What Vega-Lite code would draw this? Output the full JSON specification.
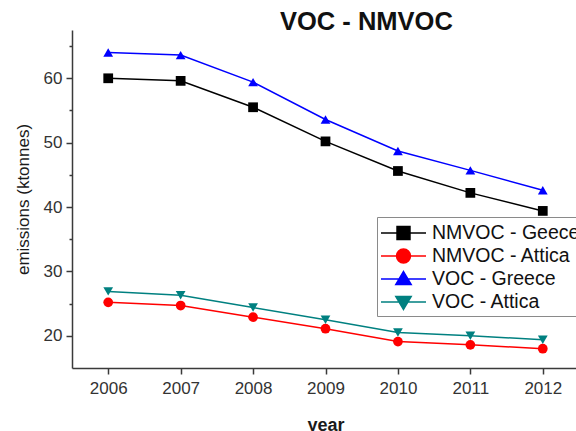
{
  "$schema": "https://vega.github.io/schema/vega-lite/v6.json",
  "autosize": "none",
  "width": 507,
  "height": 338,
  "padding": {"left": 72, "top": 30, "right": 0, "bottom": 63},
  "background": "white",
  "config": {
    "font": "Liberation Sans",
    "view": {"stroke": null},
    "axis": {
      "grid": false,
      "domainColor": "#3a3a3a",
      "domainWidth": 1.5,
      "tickColor": "#3a3a3a",
      "tickWidth": 1.5,
      "labelFont": "Liberation Sans",
      "labelFontSize": 17,
      "labelColor": "#333333",
      "titleFont": "Liberation Sans",
      "titleColor": "#1a1a1a"
    },
    "legend": {
      "orient": "none",
      "legendX": 305,
      "legendY": 187,
      "strokeColor": "#8a8a8a",
      "fillColor": "white",
      "padding": 3,
      "labelFontSize": 19.5,
      "labelColor": "#111111",
      "labelFont": "Liberation Sans",
      "labelLimit": 300,
      "labelOffset": 26,
      "symbolSize": 576,
      "symbolStrokeWidth": 1.5,
      "rowPadding": -2.3
    }
  },
  "title": {
    "text": "VOC - NMVOC",
    "font": "Liberation Sans",
    "fontSize": 25.5,
    "fontWeight": "bold",
    "color": "#111111",
    "anchor": "start",
    "frame": "group",
    "dx": 208,
    "offset": -5
  },
  "data": {
    "values": [
      {"year": 2006, "series": "NMVOC - Geece", "value": 60.0},
      {"year": 2007, "series": "NMVOC - Geece", "value": 59.6},
      {"year": 2008, "series": "NMVOC - Geece", "value": 55.5},
      {"year": 2009, "series": "NMVOC - Geece", "value": 50.2},
      {"year": 2010, "series": "NMVOC - Geece", "value": 45.6},
      {"year": 2011, "series": "NMVOC - Geece", "value": 42.2},
      {"year": 2012, "series": "NMVOC - Geece", "value": 39.4},
      {"year": 2006, "series": "NMVOC - Attica", "value": 25.2},
      {"year": 2007, "series": "NMVOC - Attica", "value": 24.7},
      {"year": 2008, "series": "NMVOC - Attica", "value": 22.9},
      {"year": 2009, "series": "NMVOC - Attica", "value": 21.1},
      {"year": 2010, "series": "NMVOC - Attica", "value": 19.1},
      {"year": 2011, "series": "NMVOC - Attica", "value": 18.6},
      {"year": 2012, "series": "NMVOC - Attica", "value": 18.0},
      {"year": 2006, "series": "VOC - Greece", "value": 64.0},
      {"year": 2007, "series": "VOC - Greece", "value": 63.6},
      {"year": 2008, "series": "VOC - Greece", "value": 59.4},
      {"year": 2009, "series": "VOC - Greece", "value": 53.6},
      {"year": 2010, "series": "VOC - Greece", "value": 48.7},
      {"year": 2011, "series": "VOC - Greece", "value": 45.7},
      {"year": 2012, "series": "VOC - Greece", "value": 42.6},
      {"year": 2006, "series": "VOC - Attica", "value": 26.9},
      {"year": 2007, "series": "VOC - Attica", "value": 26.3},
      {"year": 2008, "series": "VOC - Attica", "value": 24.4},
      {"year": 2009, "series": "VOC - Attica", "value": 22.5},
      {"year": 2010, "series": "VOC - Attica", "value": 20.5},
      {"year": 2011, "series": "VOC - Attica", "value": 20.0},
      {"year": 2012, "series": "VOC - Attica", "value": 19.4}
    ]
  },
  "encoding": {
    "x": {
      "field": "year",
      "type": "quantitative",
      "scale": {"domain": [2005.5, 2012.5], "nice": false, "zero": false},
      "axis": {
        "title": "year",
        "titleFontSize": 18,
        "titleFontWeight": "bold",
        "titlePadding": 20,
        "values": [2006, 2007, 2008, 2009, 2010, 2011, 2012],
        "format": "d",
        "tickSize": 6,
        "labelPadding": 6,
        "labelFlush": false,
        "labelOverlap": false
      }
    },
    "y": {
      "field": "value",
      "type": "quantitative",
      "scale": {"domain": [15, 67.5], "nice": false, "zero": false},
      "axis": {
        "title": "emissions (ktonnes)",
        "titleFontSize": 17,
        "titleFontWeight": "normal",
        "titlePadding": 11,
        "values": [20, 25, 30, 35, 40, 45, 50, 55, 60, 65],
        "labelExpr": "datum.value % 10 === 0 ? datum.label : ''",
        "tickSize": {"condition": {"test": "datum.value % 10 === 0", "value": 6}, "value": 3},
        "labelPadding": 4,
        "labelOverlap": false
      }
    }
  },
  "layer": [
    {
      "mark": {"type": "line", "strokeWidth": 1.5},
      "encoding": {
        "color": {
          "field": "series",
          "type": "nominal",
          "title": null,
          "scale": {
            "domain": ["NMVOC - Geece", "NMVOC - Attica", "VOC - Greece", "VOC - Attica"],
            "range": ["#000000", "#ff0000", "#0000ff", "#008080"]
          }
        }
      }
    },
    {
      "transform": [{"filter": "datum.series === 'NMVOC - Geece'"}],
      "mark": {"type": "point", "filled": true, "size": 95, "opacity": 1, "shape": "square", "color": "#000000"},
      "encoding": {}
    },
    {
      "transform": [{"filter": "datum.series === 'NMVOC - Attica'"}],
      "mark": {"type": "point", "filled": true, "size": 95, "opacity": 1, "shape": "circle", "color": "#ff0000"},
      "encoding": {}
    },
    {
      "transform": [{"filter": "datum.series === 'VOC - Greece'"}],
      "mark": {"type": "point", "filled": true, "size": 95, "opacity": 1, "shape": "triangle-up", "color": "#0000ff"},
      "encoding": {}
    },
    {
      "transform": [{"filter": "datum.series === 'VOC - Attica'"}],
      "mark": {"type": "point", "filled": true, "size": 95, "opacity": 1, "shape": "triangle-down", "color": "#008080"},
      "encoding": {}
    },
    {
      "mark": {"type": "point", "filled": true, "size": 0, "opacity": 1, "strokeWidth": 1.5},
      "encoding": {
        "color": {
          "field": "series",
          "type": "nominal",
          "title": null
        },
        "stroke": {
          "field": "series",
          "type": "nominal",
          "title": null,
          "scale": {
            "domain": ["NMVOC - Geece", "NMVOC - Attica", "VOC - Greece", "VOC - Attica"],
            "range": ["#000000", "#ff0000", "#0000ff", "#008080"]
          }
        },
        "shape": {
          "field": "series",
          "type": "nominal",
          "title": null,
          "scale": {
            "domain": ["NMVOC - Geece", "NMVOC - Attica", "VOC - Greece", "VOC - Attica"],
            "range": [
              "M-1,0H2.75M0.335,-0.54H1.415V0.54H0.335Z",
              "M-1,0H2.75M1.455,0A0.58,0.58 0 1,1 0.295,0A0.58,0.58 0 1,1 1.455,0Z",
              "M-1,0H2.75M0.875,-0.62L1.515,0.46H0.235Z",
              "M-1,0H2.75M0.875,0.62L1.515,-0.46H0.235Z"
            ]
          }
        }
      }
    }
  ]
}
